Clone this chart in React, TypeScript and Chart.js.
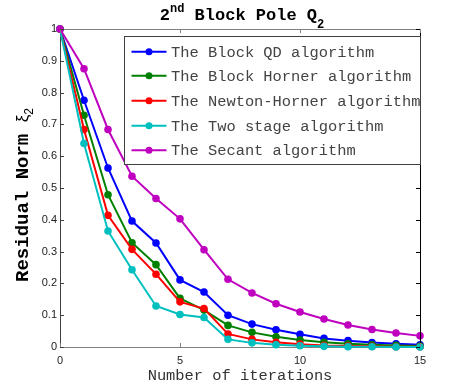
import React, { useEffect, useRef } from "react";
import { Chart, registerables } from "chart.js";

Chart.register(...registerables);

const iterations = [0, 1, 2, 3, 4, 5, 6, 7, 8, 9, 10, 11, 12, 13, 14, 15];
const blockQD = [1, 0.776, 0.563, 0.396, 0.327, 0.211, 0.173, 0.1, 0.072, 0.054, 0.04, 0.027, 0.02, 0.014, 0.01, 0.007];
const blockHorner = [1, 0.729, 0.479, 0.328, 0.259, 0.153, 0.116, 0.068, 0.046, 0.032, 0.022, 0.015, 0.01, 0.007, 0.005, 0.003];
const newtonHorner = [1, 0.684, 0.414, 0.307, 0.229, 0.142, 0.121, 0.041, 0.024, 0.015, 0.009, 0.005, 0.003, 0.002, 0.001, 0.001];
const twoStage = [1, 0.64, 0.365, 0.243, 0.129, 0.102, 0.093, 0.024, 0.013, 0.007, 0.004, 0.002, 0.001, 0.001, 0.0, 0.0];
const secant = [1, 0.875, 0.684, 0.537, 0.467, 0.403, 0.306, 0.213, 0.17, 0.136, 0.11, 0.088, 0.069, 0.055, 0.044, 0.035];

const seriesNames = [
  "The Block QD algorithm",
  "The Block Horner algorithm",
  "The Newton-Horner algorithm",
  "The Two stage algorithm",
  "The Secant algorithm",
];
const seriesValues = [blockQD, blockHorner, newtonHorner, twoStage, secant];
const seriesColors = ["#0000ff", "#008000", "#ff0000", "#00bfbf", "#bf00bf"];

const xTicks = [0, 5, 10, 15];
const yTicks = [0, 0.1, 0.2, 0.3, 0.4, 0.5, 0.6, 0.7, 0.8, 0.9, 1];

const MONO = '"Liberation Mono", "DejaVu Sans Mono", monospace';
const SANS = '"Liberation Sans", Arial, sans-serif';

const decorPlugin = {
  id: "decor",
  afterDraw(chart: any) {
    const ctx = chart.ctx as CanvasRenderingContext2D;
    const { left, right, top, bottom } = chart.chartArea;
    const xs = chart.scales.x;
    const ys = chart.scales.y;
    ctx.save();

    // top & right box lines
    ctx.lineWidth = 1;
    ctx.strokeStyle = "#808080";
    ctx.beginPath();
    ctx.moveTo(left, top + 0.5);
    ctx.lineTo(right, top + 0.5);
    ctx.stroke();
    ctx.strokeStyle = "#000";
    ctx.beginPath();
    ctx.moveTo(right + 0.5, top);
    ctx.lineTo(right + 0.5, bottom);
    ctx.stroke();

    // inward ticks
    const tl = 4;
    xTicks.forEach((v) => {
      const px = Math.round(xs.getPixelForValue(v)) + 0.5;
      ctx.strokeStyle = "#808080";
      ctx.beginPath();
      ctx.moveTo(px, bottom);
      ctx.lineTo(px, bottom - tl);
      ctx.moveTo(px, top);
      ctx.lineTo(px, top + tl);
      ctx.stroke();
    });
    yTicks.forEach((v) => {
      const py = Math.round(ys.getPixelForValue(v)) + 0.5;
      ctx.strokeStyle = "#404040";
      ctx.beginPath();
      ctx.moveTo(left, py);
      ctx.lineTo(left + tl, py);
      ctx.stroke();
      ctx.strokeStyle = "#000";
      ctx.beginPath();
      ctx.moveTo(right, py);
      ctx.lineTo(right - tl, py);
      ctx.stroke();
    });

    // title: 2^nd Block Pole Q_2
    ctx.fillStyle = "#000";
    ctx.textBaseline = "alphabetic";
    ctx.textAlign = "left";
    const big = "bold 17px " + MONO;
    const small = "bold 12px " + MONO;
    const parts: [string, string, number][] = [
      ["2", big, 0],
      ["nd", small, -8],
      [" Block Pole Q", big, 0],
      ["2", small, 8],
    ];
    let tw = 0;
    parts.forEach(([t, f]) => {
      ctx.font = f;
      tw += ctx.measureText(t).width;
    });
    let tx = (left + right) / 2 - tw / 2 + 2;
    const tBase = 20;
    parts.forEach(([t, f, dy]) => {
      ctx.font = f;
      ctx.fillText(t, tx, tBase + dy);
      tx += ctx.measureText(t).width;
    });

    // y axis label
    ctx.save();
    ctx.translate(28, 195);
    ctx.rotate(-Math.PI / 2);
    const yParts: [string, string, number][] = [
      ["Residual Norm ", "bold 19px " + MONO, 0],
      ["\u03be", "17px " + SANS, 0],
      ["2", "12px " + SANS, 5],
    ];
    let yw = 0;
    yParts.forEach(([t, f]) => {
      ctx.font = f;
      yw += ctx.measureText(t).width;
    });
    let yx = -yw / 2;
    yParts.forEach(([t, f, dy]) => {
      ctx.font = f;
      ctx.fillText(t, yx, dy);
      yx += ctx.measureText(t).width;
    });
    ctx.restore();

    // x axis label
    ctx.font = "15.4px " + MONO;
    ctx.fillStyle = "#333";
    ctx.textAlign = "center";
    ctx.fillText("Number of iterations", (left + right) / 2, 380);

    // legend
    const bx = 124.5, by = 36.5, bw = 296, bh = 128;
    ctx.fillStyle = "#fff";
    ctx.fillRect(bx, by, bw, bh);
    ctx.strokeStyle = "#404040";
    ctx.lineWidth = 1;
    ctx.strokeRect(bx, by, bw, bh);
    const rows = [51.7, 75.7, 100.7, 125.7, 150.3];
    ctx.textAlign = "left";
    ctx.textBaseline = "middle";
    chart.data.datasets.forEach((ds: any, i: number) => {
      const ry = rows[i];
      ctx.strokeStyle = ds.borderColor;
      ctx.lineWidth = 2;
      ctx.beginPath();
      ctx.moveTo(131.5, ry);
      ctx.lineTo(166.5, ry);
      ctx.stroke();
      ctx.fillStyle = ds.borderColor;
      ctx.beginPath();
      ctx.arc(149, ry, 3.5, 0, Math.PI * 2);
      ctx.fill();
      ctx.fillStyle = "#444";
      ctx.font = "15.4px " + MONO;
      ctx.fillText(ds.label, 171, ry + 1);
    });

    ctx.restore();
  },
};

export default function App() {
  const ref = useRef<HTMLCanvasElement | null>(null);
  useEffect(() => {
    if (!ref.current) return;
    const datasets = seriesValues.map((vals, i) => ({
      label: seriesNames[i],
      data: iterations.map((it, j) => ({ x: it, y: vals[j] })),
      borderColor: seriesColors[i],
      backgroundColor: seriesColors[i],
      pointBackgroundColor: seriesColors[i],
      pointBorderColor: seriesColors[i],
      borderWidth: 2,
      pointRadius: 3.8,
      pointBorderWidth: 0,
      tension: 0,
      clip: false as any,
      order: seriesValues.length - i,
    }));
    const chart = new Chart(ref.current, {
      type: "line",
      data: { datasets },
      options: {
        animation: false,
        responsive: false,
        devicePixelRatio: 1,
        layout: { padding: { top: 29, right: 43, left: 0, bottom: 0 } },
        plugins: { legend: { display: false }, title: { display: false }, tooltip: { enabled: false } },
        scales: {
          x: {
            type: "linear",
            min: 0,
            max: 15,
            afterFit: (s: any) => {
              s.height = 45;
            },
            afterBuildTicks: (s: any) => {
              s.ticks = xTicks.map((v) => ({ value: v }));
            },
            grid: { display: false, drawTicks: false },
            border: { display: true, color: "#808080", width: 1 },
            ticks: {
              padding: 7,
              color: "#222",
              font: { family: SANS, size: 11 },
              maxRotation: 0,
              callback: (v: any) => String(v),
            },
          },
          y: {
            type: "linear",
            min: 0,
            max: 1,
            afterFit: (s: any) => {
              s.width = 60;
            },
            afterBuildTicks: (s: any) => {
              s.ticks = yTicks.map((v) => ({ value: v }));
            },
            grid: { display: false, drawTicks: false },
            border: { display: true, color: "#404040", width: 1 },
            ticks: {
              padding: 3,
              color: "#222",
              font: { family: SANS, size: 11 },
              callback: (v: any) => String(Math.round(v * 10) / 10),
            },
          },
        },
      },
      plugins: [decorPlugin],
    });
    return () => chart.destroy();
  }, []);
  return (
    <div style={{ position: "absolute", left: 0, top: 0, width: 463, height: 392, background: "#fff" }}>
      <canvas ref={ref} width={463} height={392} style={{ display: "block" }} />
    </div>
  );
}
